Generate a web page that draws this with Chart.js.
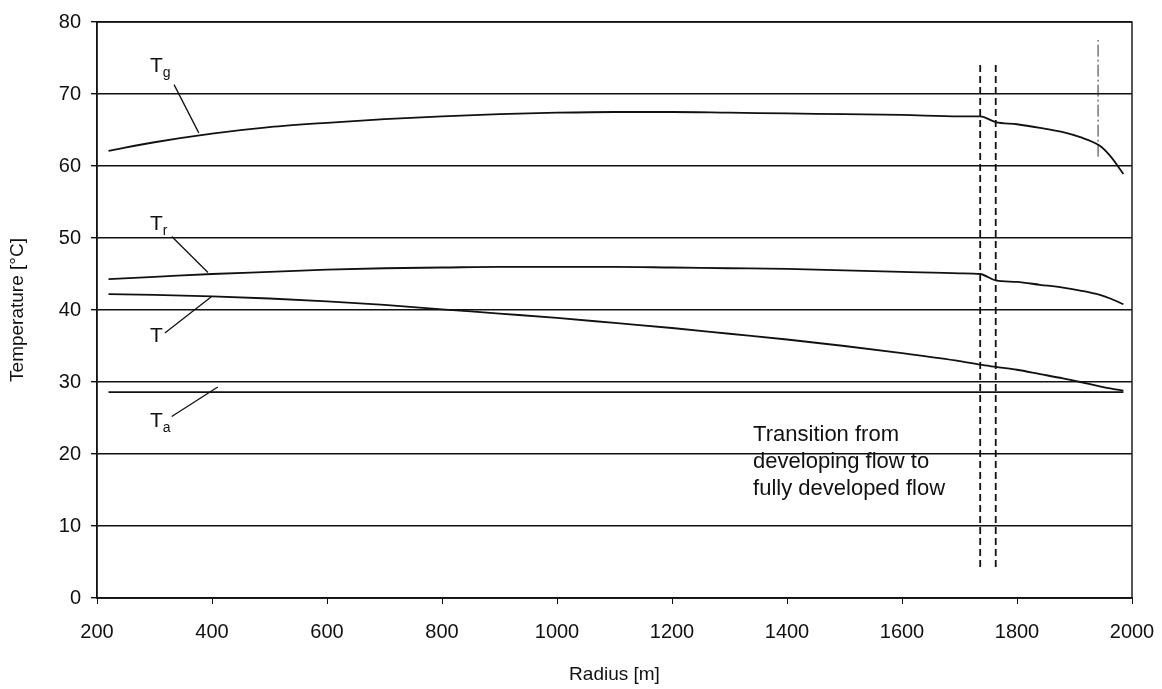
<!DOCTYPE html>
<html><head><meta charset="utf-8">
<script src="https://cdn.jsdelivr.net/npm/chart.js@4/dist/chart.umd.min.js"></script>
<style>html,body{margin:0;padding:0;background:#fff}#wrap{width:1162px;height:689px}</style>
</head><body><div id="wrap"><canvas id="c" width="1162" height="689"></canvas></div>
<script>
const radius = [220,300,400,500,600,700,800,900,1000,1100,1200,1300,1400,1500,1600,1700,1736,1763,1800,1840,1880,1910,1944,1962,1985];
const Tg = [62.1,63.3,64.5,65.4,66.0,66.5,66.9,67.2,67.4,67.5,67.5,67.4,67.3,67.2,67.1,66.9,66.9,66.1,65.8,65.3,64.7,64.0,62.8,61.4,58.9];
const Tr = [44.3,44.6,45.0,45.3,45.6,45.8,45.9,46.0,46.0,46.0,45.9,45.8,45.7,45.5,45.3,45.1,45.0,44.1,43.9,43.5,43.1,42.7,42.1,41.6,40.8];
const T  = [42.2,42.1,41.9,41.6,41.2,40.7,40.1,39.5,38.9,38.2,37.5,36.7,35.9,35.0,34.0,32.9,32.4,32.1,31.7,31.1,30.5,30.0,29.4,29.1,28.8];
const Ta = [28.6,28.6,28.6,28.6,28.6,28.6,28.6,28.6,28.6,28.6,28.6,28.6,28.6,28.6,28.6,28.6,28.6,28.6,28.6,28.6,28.6,28.6,28.6,28.6,28.6];
const transitionRadii = [1736,1763];
const transitionSpan = [4.3,74.5];
const markerRadius = 1941;
const markerSpan = [61.3,77.5];
const xTicks = [200,400,600,800,1000,1200,1400,1600,1800,2000];
const yTicks = [0,10,20,30,40,50,60,70,80];
const seriesNames = ['Tg','Tr','T','Ta'];
const transitionText = ['Transition from','developing flow to','fully developed flow'];

const FONT = '"Liberation Sans", Arial, sans-serif';
const pts = arr => radius.map((r,i)=>({x:r,y:arr[i]}));
const lineDs = (label,arr)=>({label,data:pts(arr),borderColor:'#111',borderWidth:1.8,pointRadius:0,cubicInterpolationMode:'monotone',fill:false});

const datasets = [lineDs(seriesNames[0],Tg),lineDs(seriesNames[1],Tr),lineDs(seriesNames[2],T),lineDs(seriesNames[3],Ta)];
transitionRadii.forEach(r=>datasets.push({label:'transition',data:[{x:r,y:transitionSpan[0]},{x:r,y:transitionSpan[1]}],borderColor:'#111',borderWidth:1.8,borderDash:[7,4],pointRadius:0}));
datasets.push({label:'marker',data:[{x:markerRadius,y:markerSpan[0]},{x:markerRadius,y:markerSpan[1]}],borderColor:'#333',borderWidth:1,borderDash:[12,3,2,3],pointRadius:0});

// label annotations (data coordinates)
const labels = [
  {main:'T',sub:'g',tx:292,ty:73.1,l:[[334,71.3],[377,64.6]]},
  {main:'T',sub:'r',tx:292,ty:51.1,l:[[330,50.2],[393,45.2]]},
  {main:'T',sub:'',tx:292,ty:35.6,l:[[318,36.8],[400,41.9]]},
  {main:'T',sub:'a',tx:292,ty:23.8,l:[[330,25.2],[410,29.3]]}
];

const annot = {
  id:'annot',
  afterDatasetsDraw(chart){
    const {ctx,chartArea:a,scales:{x,y}} = chart;
    ctx.save();
    ctx.strokeStyle='#111';ctx.lineWidth=1.4;
    ctx.strokeRect(a.left,a.top,a.right-a.left,a.bottom-a.top);
    ctx.fillStyle='#111';
    labels.forEach(o=>{
      const px=x.getPixelForValue(o.tx), py=y.getPixelForValue(o.ty);
      ctx.font='21px '+FONT;ctx.textBaseline='alphabetic';ctx.textAlign='left';
      ctx.fillText(o.main,px,py);
      const w=ctx.measureText(o.main).width;
      if(o.sub){ctx.font='14px '+FONT;ctx.fillText(o.sub,px+w,py+5);}
      ctx.beginPath();ctx.lineWidth=1.3;
      ctx.moveTo(x.getPixelForValue(o.l[0][0]),y.getPixelForValue(o.l[0][1]));
      ctx.lineTo(x.getPixelForValue(o.l[1][0]),y.getPixelForValue(o.l[1][1]));
      ctx.stroke();
    });
    ctx.font='22px '+FONT;ctx.textAlign='left';ctx.textBaseline='alphabetic';
    const tx=x.getPixelForValue(1341), ty=y.getPixelForValue(21.8);
    transitionText.forEach((s,i)=>ctx.fillText(s,tx,ty+i*27));
    ctx.restore();
  }
};

new Chart(document.getElementById('c'),{
  type:'line',
  data:{datasets},
  options:{
    responsive:false,animation:false,
    layout:{padding:{left:0,right:30,top:22,bottom:0}},
    plugins:{legend:{display:false},tooltip:{enabled:false}},
    scales:{
      x:{type:'linear',min:200,max:2000,
        afterBuildTicks(s){s.ticks=xTicks.map(v=>({value:v}));},
        afterFit(s){s.height=91;s.paddingRight=0;s.paddingLeft=0;},
        grid:{display:true,drawOnChartArea:false,drawTicks:true,tickLength:6,color:'#111'},
        border:{display:true,color:'#111',width:1.4},
        ticks:{color:'#111',font:{family:FONT,size:20},padding:16,maxRotation:0,callback:v=>String(v)},
        title:{display:true,text:'Radius [m]',color:'#111',font:{family:FONT,size:19},padding:{top:4,bottom:3}}
      },
      y:{type:'linear',min:0,max:80,
        afterBuildTicks(s){s.ticks=yTicks.map(v=>({value:v}));},
        afterFit(s){s.width=97;},
        grid:{display:true,drawTicks:true,tickLength:6,color:'#111',lineWidth:1.4},
        border:{display:true,color:'#111',width:1.4},
        ticks:{color:'#111',font:{family:FONT,size:20},padding:10,callback:v=>String(v)},
        title:{display:true,text:'Temperature [°C]',color:'#111',font:{family:FONT,size:19},padding:{top:6,bottom:6}}
      }
    }
  },
  plugins:[annot]
});
</script></body></html>
